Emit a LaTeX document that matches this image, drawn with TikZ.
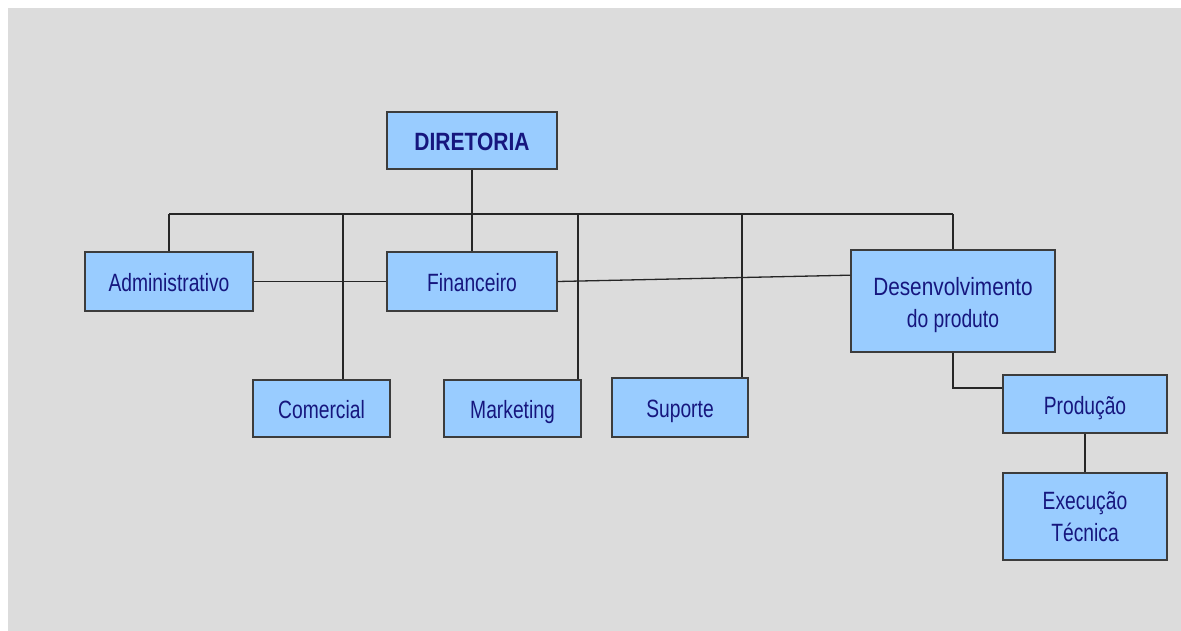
\documentclass[tikz,border=0pt]{standalone}
\usepackage{fontspec}
\usepackage{graphicx}
\setmainfont{Liberation Sans}[FakeStretch=0.77]
\newfontfamily\dirfont{Liberation Sans}[FakeStretch=0.84]
\usetikzlibrary{shadows,calc}
\definecolor{bg}{HTML}{DCDCDC}
\definecolor{boxfill}{HTML}{99CCFF}
\definecolor{boxline}{HTML}{3C3C3C}
\definecolor{txt}{HTML}{16167E}
\begin{document}
\begin{tikzpicture}[x=1pt,y=-1pt,
  orgbox/.style={draw=boxline, line width=1.3pt, fill=boxfill, inner sep=0pt,
    align=center, text=txt,
    font=\fontsize{25}{32}\selectfont,
    drop shadow={shadow xshift=1.2pt, shadow yshift=-1.2pt, fill=black!45, opacity=0.6}},
  oneline/.style={orgbox, text height=20pt, text depth=0pt},
  link/.style={draw=black!85, line width=1.3pt}]
\useasboundingbox (0,0) rectangle (1181,631);
\fill[white] (0,0) rectangle (1181,631);
\fill[bg] (8,8) rectangle (1181,631);

\node[oneline, minimum width=170pt, minimum height=57pt] (dir) at (472,140.5) {\dirfont\bfseries DIRETORIA};
\node[oneline, minimum width=168pt, minimum height=59pt] (adm) at (169,281.5) {Administrativo};
\node[oneline, minimum width=170pt, minimum height=59pt] (fin) at (472,281.5) {Financeiro};
\node[orgbox, minimum width=204pt, minimum height=102pt] (des) at (953,301) {\rule{0pt}{27pt}\scalebox{1.08}[1]{Desenvolvimento}\\do produto};
\node[oneline, minimum width=137pt, minimum height=57pt] (com) at (321.5,408.5) {Comercial};
\node[oneline, minimum width=137pt, minimum height=57pt] (mkt) at (512.5,408.5) {Marketing};
\node[oneline, minimum width=136pt, minimum height=59pt] (sup) at (680,407.5) {Suporte};
\node[oneline, minimum width=164pt, minimum height=58pt] (pro) at (1085,404) {Produção};
\node[orgbox, minimum width=164pt, minimum height=87pt] (exe) at (1085,516.5) {Execução\\Técnica};

\coordinate (bL) at (169,214);
\coordinate (bC) at (343,214);
\coordinate (bM) at (578,214);
\coordinate (bS) at (742,214);
\coordinate (bR) at (953,214);
\coordinate (bend) at (953,388);

\draw[link] (bL) -- (bR);
\draw[link] (bL) -- (adm.north);
\draw[link] (bC) -- (bC |- com.north);
\draw[link] (dir.south) -- (fin.north);
\draw[link] (bM) -- (bM |- mkt.north);
\draw[link] (bS) -- (bS |- sup.north);
\draw[link] (bR) -- (des.north);
\draw[link] (adm.east) -- (fin.west);
\draw[link] (fin.east) -- ($(des.north west)!0.25!(des.south west)$);
\draw[link] (des.south) -- (bend) -- (bend -| pro.west);
\draw[link] (pro.south) -- (exe.north);
\end{tikzpicture}
\end{document}
